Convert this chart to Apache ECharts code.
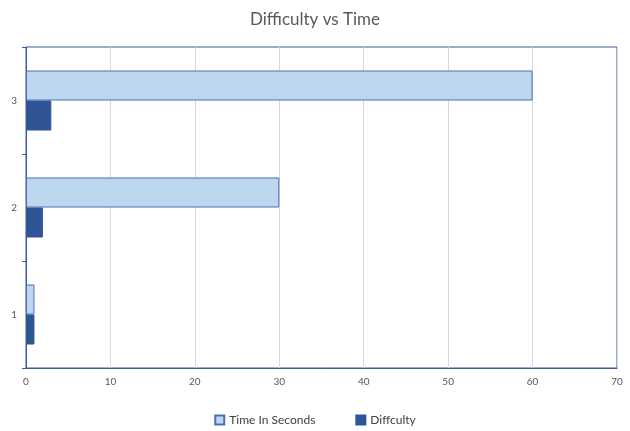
<!DOCTYPE html>
<html><head><meta charset="utf-8">
<script src="https://cdn.jsdelivr.net/npm/echarts@6/dist/echarts.min.js"></script>
<style>html,body{margin:0;padding:0;background:#fff}#c{width:630px;height:431px}</style>
</head><body><div id="c"></div>
<script>
const categories = ['1', '2', '3'];
const timeSeconds = [1, 30, 60];
const difficulty = [1, 2, 3];
const xTicks = [0, 10, 20, 30, 40, 50, 60, 70];

const chart = echarts.init(document.getElementById('c'));
const font = 'Lato, "Open Sans", sans-serif';
chart.setOption({
  animation: false,
  textStyle: { fontFamily: font },
  title: { text: 'Difficulty vs Time', left: 'center', top: 6,
    textStyle: { fontFamily: font, fontSize: 17, fontWeight: 'normal', color: '#595959' } },
  legend: { bottom: 0, itemWidth: 9, itemHeight: 9, itemGap: 40, icon: 'rect',
    data: ['Time In Seconds', 'Diffculty'],
    textStyle: { fontFamily: font, fontSize: 12, color: '#404040' } },
  grid: { left: 26, right: 13, top: 47, bottom: 63, show: true, borderColor: '#3b5a9a', borderWidth: 1, containLabel: false },
  xAxis: { type: 'value', min: xTicks[0], max: xTicks[xTicks.length-1], interval: 10,
    axisLine: { show: true, lineStyle: { color: '#3b5a9a' } },
    axisTick: { show: false },
    axisLabel: { color: '#595959', fontSize: 10, margin: 9 },
    splitLine: { show: true, lineStyle: { color: '#d9d9d9' } } },
  yAxis: { type: 'category', data: categories,
    axisLine: { show: true, lineStyle: { color: '#3b5a9a' } },
    axisTick: { show: true, length: 4, lineStyle: { color: '#3b5a9a' } },
    axisLabel: { color: '#595959', fontSize: 10, margin: 9 } },
  series: [
    { name: 'Time In Seconds', type: 'bar', data: timeSeconds, barWidth: 30, barGap: '0%',
      itemStyle: { color: '#bdd7ee', borderColor: '#4a6fb5', borderWidth: 1 } },
    { name: 'Diffculty', type: 'bar', data: difficulty, barWidth: 30, barGap: '0%',
      itemStyle: { color: '#2f5597', borderColor: '#2f5597', borderWidth: 1 } }
  ]
});
</script></body></html>
